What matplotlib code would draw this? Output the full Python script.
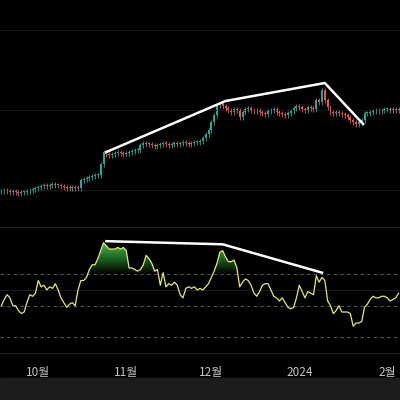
import numpy as np
import matplotlib.pyplot as plt
from matplotlib.colors import LinearSegmentedColormap
from matplotlib.path import Path

# daily closes (arbitrary price units), Sep 18 2023 .. Feb 5 2024
closes = [39, 40, 39, 38, 39, 38, 37, 38, 38, 39,
          40, 41, 42, 43,
          44, 45, 44, 45, 46, 45, 45, 44, 43, 42, 43, 42,
          43, 42,
          50, 51, 52, 53, 54, 55, 55,
          66, 78, 76, 75, 76, 77, 78, 77, 76, 77, 78, 79, 80, 80,
          85, 87, 86, 86, 85, 84, 85, 86, 87, 86, 85, 86, 87, 86, 87, 88, 87, 86, 87, 88, 88, 89,
          92, 96, 100, 108, 115, 125, 126, 124,
          122, 120, 118, 121, 120, 113, 118, 121, 122, 120, 119, 120, 118, 117, 116, 119, 120, 121,
          118, 117, 116, 115, 117, 119, 122, 124, 123,
          121, 120, 123, 122, 121, 130, 128, 140, 130, 123, 118, 117, 118, 117, 116, 115, 113, 110,
          108, 106, 108, 110, 117, 117, 118, 119, 120, 119, 120, 121, 121, 120, 121, 120, 121]

rsi = [50, 54, 57, 55, 50, 50, 47, 45, 46, 52, 57, 56, 58, 66, 62, 63, 60, 62, 61, 64,
       60, 55, 52, 49, 51, 52, 50, 60, 66, 66, 68, 73, 76, 76, 80, 85, 90, 88, 86, 86,
       86, 87, 86, 87, 85, 74, 74, 73, 72, 73, 76, 82, 80, 77, 72, 73, 63, 71, 62, 64,
       63, 65, 63, 57, 55, 61, 62, 61, 62, 60, 61, 60, 62, 64, 68, 72, 77, 84, 85, 81,
       78, 78, 79, 74, 62, 65, 67, 66, 63, 58, 56, 59, 63, 64, 64, 60, 56, 55, 53, 55,
       52, 49, 48, 49, 55, 63, 59, 55, 59, 58, 57, 69, 65, 68, 66, 53, 50, 45, 47, 50,
       46, 46, 46, 45, 37, 39, 39, 40, 49, 51, 54, 56, 55, 55, 56, 56, 55, 53, 54, 55, 58]

month_ticks = [13, 44, 74, 105, 136]
month_labels = ["10월", "11월", "12월", "2024", "2월"]

price_trend_x = [37, 79, 114, 127.5]
price_trend_y = [78, 129, 147, 106]
rsi_trend_x = [37, 78, 113]
rsi_trend_y = [91, 89, 71]

plt.rcParams['font.family'] = ['Noto Sans CJK KR', 'DejaVu Sans']

n = min(len(closes), len(rsi))
days = np.arange(n)
c = np.array(closes[:n], dtype=float)
o = np.concatenate([[c[0]], c[:-1]])
r = np.array(rsi[:n], dtype=float)

fig = plt.figure(figsize=(4, 4), dpi=100, facecolor='black')
xlim = (-0.5, 140.5)

# price panel
ax1 = fig.add_axes([0, 1 - 225 / 400, 1, 225 / 400], facecolor='black')
up = c >= o
cols = np.where(up, '#26a69a', '#ef5350')
hi = np.maximum(o, c) + 2.5
lo = np.minimum(o, c) - 2.5
ax1.vlines(days, lo, hi, colors=cols, linewidth=0.6)
ax1.bar(days, np.maximum(np.abs(c - o), 0.8), bottom=np.minimum(o, c), width=0.7, color=cols)
ax1.plot(price_trend_x, price_trend_y, color='white', lw=1.8)
ax1.set_xlim(*xlim)
ax1.set_ylim(5, 230)
ax1.set_yticks([40, 120, 200])
ax1.grid(axis='y', color='#141414', lw=0.8)
ax1.tick_params(left=False, bottom=False, labelleft=False, labelbottom=False)
for s in ax1.spines.values():
    s.set_visible(False)

# RSI panel
ax2 = fig.add_axes([0, 45 / 400, 1, 128 / 400], facecolor='black')
ax2.set_xlim(*xlim)
ax2.set_ylim(18.7, 100)
for lvl in [100, 60, 20]:
    ax2.axhline(lvl, color='#1c1c1c', lw=0.8)
for lvl in [70, 50, 30]:
    ax2.axhline(lvl, color='#555555', lw=0.8, ls=(0, (3, 3)))

cmap = LinearSegmentedColormap.from_list('g', ['#000000', '#1f6b25', '#5cbf55'])
grad = np.linspace(0, 1, 100).reshape(-1, 1)
img = ax2.imshow(grad, extent=[xlim[0], xlim[1], 70, 91], origin='lower',
                 cmap=cmap, aspect='auto', zorder=1)
poly = ax2.fill_between(days, 70, r, where=r > 70, interpolate=True,
                        color='none', lw=0)
paths = poly.get_paths()
if paths:
    img.set_clip_path(Path.make_compound_path(*paths), ax2.transData)

ax2.plot(days, r, color='#e6e67a', lw=0.9, zorder=3)
ax2.plot(rsi_trend_x, rsi_trend_y, color='white', lw=1.8, zorder=4)
ax2.set_xticks(month_ticks)
ax2.set_xticklabels(month_labels, color='#c8c8c8', fontsize=8.5)
ax2.tick_params(left=False, labelleft=False, length=0, pad=8)
ax2.set_yticks([])
for s in ax2.spines.values():
    s.set_visible(False)

# bottom strip
fig.patches.append(plt.Rectangle((0, 0), 1, 22 / 400, transform=fig.transFigure,
                                 color='#1c1c1c', zorder=0))

fig.savefig('out.png', dpi=100, facecolor='black')
